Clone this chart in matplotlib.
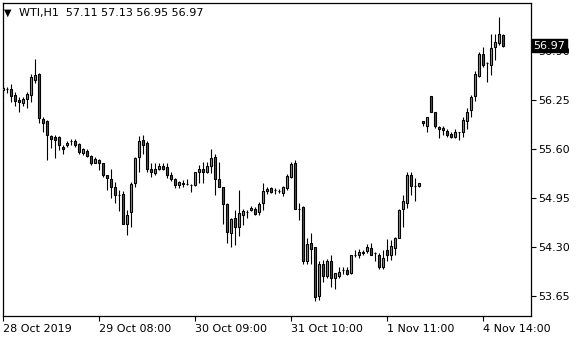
import matplotlib
matplotlib.use('Agg')
import matplotlib.pyplot as plt

# WTI, H1 - velas japonesas estilo MetaTrader
# precios (apertura, maximo, minimo, cierre)

opens = [56.38, 56.39, 56.39, 56.32, 56.25, 56.21, 56.26, 56.32, 56.52, 56.59,
         56.00, 55.97, 55.77, 55.76, 55.76, 55.63, 55.66, 55.70, 55.71, 55.67,
         55.55, 55.57, 55.51, 55.42, 55.45, 55.41, 55.25, 55.20, 55.09, 54.99,
         55.00, 54.61, 54.77, 55.15, 55.49, 55.72, 55.68, 55.34, 55.28, 55.34,
         55.37, 55.36, 55.26, 55.20, 55.12, 55.14, 55.13, 55.12, 55.12, 55.29,
         55.33, 55.29, 55.38, 55.50, 55.20, 55.09, 54.87, 54.49, 54.68, 54.56,
         54.73, 54.76, 54.79, 54.81, 54.77, 54.89, 55.05, 55.08, 55.06, 55.05,
         55.02, 55.08, 55.23, 55.42, 54.81, 54.83, 54.11, 54.35, 54.30, 53.65,
         54.08, 53.92, 54.11, 53.89, 53.92, 53.99, 54.00, 53.95, 54.20, 54.19,
         54.22, 54.25, 54.29, 54.22, 54.19, 54.04, 54.26, 54.19, 54.29, 54.42,
         54.80, 54.89, 55.26, 55.11, 55.11, 55.97, 55.91, 56.30, 56.09, 55.89,
         55.88, 55.84, 55.80, 55.76, 55.83, 55.83, 55.97, 56.12, 56.30, 56.57,
         56.86, 56.74, 56.71, 56.95, 57.01, 57.11]

highs = [56.44, 56.42, 56.46, 56.35, 56.29, 56.29, 56.35, 56.59, 56.79, 56.61,
         56.03, 55.98, 55.79, 55.79, 55.77, 55.65, 55.71, 55.73, 55.73, 55.68,
         55.62, 55.60, 55.52, 55.49, 55.47, 55.42, 55.26, 55.34, 55.16, 55.06,
         55.04, 54.79, 55.16, 55.50, 55.77, 55.78, 55.70, 55.42, 55.41, 55.41,
         55.41, 55.41, 55.29, 55.22, 55.18, 55.19, 55.20, 55.14, 55.30, 55.39,
         55.43, 55.43, 55.60, 55.54, 55.43, 55.10, 54.88, 54.68, 54.79, 55.06,
         54.81, 54.79, 54.84, 54.83, 54.90, 55.15, 55.09, 55.09, 55.08, 55.07,
         55.11, 55.27, 55.43, 55.46, 54.89, 54.84, 54.42, 54.48, 54.30, 54.11,
         54.13, 54.14, 54.19, 53.96, 54.04, 54.03, 54.04, 54.20, 54.26, 54.27,
         54.26, 54.34, 54.35, 54.24, 54.22, 54.26, 54.41, 54.39, 54.44, 54.81,
         54.99, 55.30, 55.30, 55.21, 55.15, 55.97, 56.03, 56.30, 56.09, 55.90,
         55.91, 55.87, 55.82, 55.86, 55.83, 56.03, 56.14, 56.32, 56.63, 56.89,
         56.95, 56.76, 57.13, 57.13, 57.35, 57.13]

lows = [56.29, 56.34, 56.23, 56.17, 56.09, 56.17, 56.14, 56.23, 56.47, 55.94,
        55.83, 55.45, 55.61, 55.48, 55.59, 55.54, 55.63, 55.65, 55.63, 55.54,
        55.52, 55.50, 55.39, 55.41, 55.32, 55.23, 55.06, 54.95, 54.88, 54.78,
        54.60, 54.46, 54.57, 55.09, 55.30, 55.53, 55.30, 55.23, 55.26, 55.32,
        55.32, 55.21, 55.17, 55.08, 55.08, 55.10, 55.12, 55.03, 55.11, 55.15,
        55.15, 55.28, 55.28, 54.99, 55.09, 54.61, 54.36, 54.30, 54.33, 54.45,
        54.59, 54.68, 54.78, 54.72, 54.72, 54.79, 55.01, 55.02, 55.01, 55.02,
        54.98, 55.06, 55.21, 54.80, 54.66, 54.08, 54.08, 54.08, 53.58, 53.60,
        53.84, 53.89, 53.77, 53.75, 53.89, 53.94, 53.93, 53.94, 54.17, 54.16,
        54.20, 54.22, 54.19, 54.11, 54.01, 54.01, 54.11, 54.13, 54.19, 54.42,
        54.57, 54.82, 54.99, 54.91, 55.10, 55.91, 55.83, 56.09, 55.88, 55.75,
        55.79, 55.76, 55.74, 55.74, 55.72, 55.76, 55.87, 56.02, 56.24, 56.56,
        56.69, 56.49, 56.58, 56.78, 56.98, 56.95]

closes = [56.41, 56.40, 56.30, 56.24, 56.22, 56.27, 56.33, 56.55, 56.58, 56.01,
          55.95, 55.78, 55.73, 55.72, 55.66, 55.60, 55.68, 55.70, 55.66, 55.56,
          55.60, 55.51, 55.41, 55.47, 55.41, 55.26, 55.21, 55.09, 54.99, 54.99,
          54.61, 54.73, 55.13, 55.48, 55.71, 55.66, 55.33, 55.29, 55.34, 55.37,
          55.33, 55.26, 55.20, 55.12, 55.16, 55.15, 55.13, 55.12, 55.29, 55.33,
          55.29, 55.37, 55.48, 55.20, 55.10, 54.87, 54.50, 54.67, 54.56, 54.75,
          54.78, 54.76, 54.82, 54.74, 54.87, 55.04, 55.07, 55.03, 55.06, 55.05,
          55.09, 55.24, 55.40, 54.81, 54.81, 54.11, 54.34, 54.28, 53.64, 54.07,
          53.91, 54.11, 53.89, 53.95, 53.97, 53.99, 53.94, 54.19, 54.20, 54.23,
          54.24, 54.30, 54.20, 54.22, 54.03, 54.15, 54.19, 54.32, 54.42, 54.79,
          54.91, 55.26, 55.11, 55.11, 55.15, 55.94, 56.02, 56.09, 55.90, 55.86,
          55.85, 55.78, 55.76, 55.83, 55.83, 55.98, 56.09, 56.29, 56.59, 56.86,
          56.71, 56.74, 56.94, 57.02, 57.13, 56.97]

tick_bars = [0, 24, 48, 72, 96, 120]
tick_labels = ['28 Oct 2019', '29 Oct 08:00', '30 Oct 09:00',
               '31 Oct 10:00', '1 Nov 11:00', '4 Nov 14:00']
price_ticks = [53.65, 54.30, 54.95, 55.60, 56.25, 56.90]

x = list(range(len(closes)))
bottoms = [min(o, c) for o, c in zip(opens, closes)]
heights = [abs(c - o) for o, c in zip(opens, closes)]
colors = ['#32c832' if c >= o else '#e01414' for o, c in zip(opens, closes)]

fig = plt.figure(figsize=(5.8, 3.4), dpi=100)
ax = fig.add_axes([2.5 / 580, 1 - 316 / 340, 528 / 580, 313.5 / 340])

# mechas y cuerpos
ax.vlines(x, lows, highs, color='black', linewidth=0.8, zorder=2)
ax.bar(x, heights, bottom=bottoms, width=0.55, color=colors,
       edgecolor='black', linewidth=0.8, zorder=3)

ax.set_xlim(-0.2, 131.8)
ax.set_ylim(53.386, 57.543)

ax.yaxis.tick_right()
ax.set_yticks(price_ticks)
ax.set_yticklabels(['%.2f' % p for p in price_ticks])
ax.set_xticks(tick_bars)
ax.set_xticklabels(tick_labels, ha='left')
ax.tick_params(axis='both', direction='out', length=3.5, width=0.8,
               labelsize=8, pad=2, colors='black')
for s in ax.spines.values():
    s.set_linewidth(0.9)
    s.set_color('black')

# etiqueta del ultimo precio (tapa la marca 56.90 como en MetaTrader)
ax.annotate('%.2f' % closes[-1], xy=(1, closes[-1]),
            xycoords=('axes fraction', 'data'), xytext=(2.2, 0),
            textcoords='offset points', va='center', ha='left',
            fontsize=8, color='white', annotation_clip=False, zorder=10,
            bbox=dict(boxstyle='square,pad=0.12', fc='black', ec='black'))

# encabezado
fig.text(4 / 580, 1 - 12.5 / 340, '\u25bc', fontsize=7, va='center', ha='left')
fig.text(19 / 580, 1 - 13 / 340,
         'WTI,H1  %.2f %.2f %.2f %.2f' % (opens[-1], highs[-1], lows[-1], closes[-1]),
         fontsize=8, va='center', ha='left')

fig.savefig('out.png', dpi=100)
